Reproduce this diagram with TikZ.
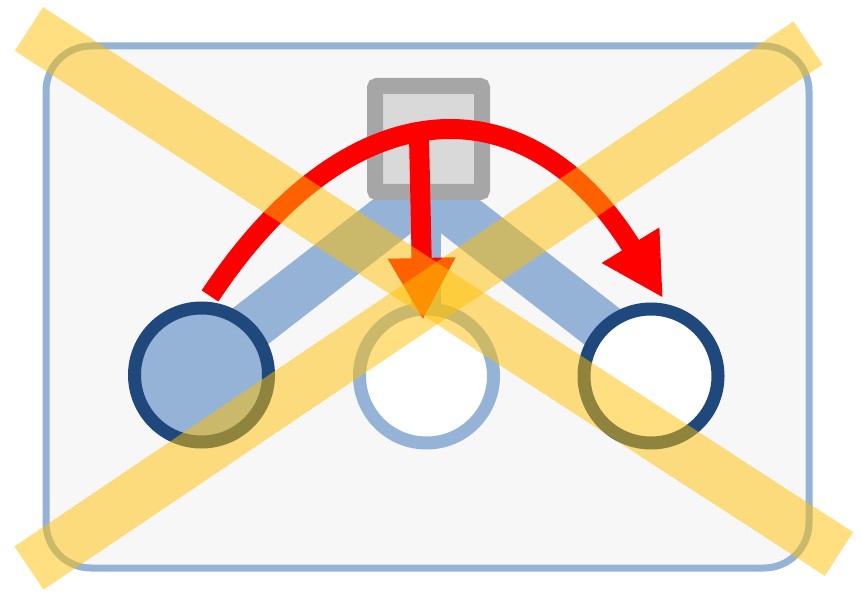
\documentclass[tikz,border=0pt]{standalone}
\usetikzlibrary{arrows.meta}
\definecolor{lightblue}{HTML}{95B3D7}
\definecolor{darkblue}{HTML}{1F497D}
\definecolor{boxgray}{HTML}{A6A6A6}
\definecolor{boxfill}{HTML}{D9D9D9}
\definecolor{panel}{HTML}{F7F7F7}
\definecolor{xyellow}{HTML}{FFC000}
\tikzset{
  band/.style={draw=lightblue, line width=50pt, line cap=butt},
  vband/.style={draw=lightblue, line width=30pt, line cap=butt},
  hub/.style={rectangle, draw=boxgray, fill=boxfill, line width=16pt, minimum width=107pt, minimum height=106pt, inner sep=0pt, rounded corners=2pt},
  endpt/.style={circle, line width=13pt, minimum size=134pt, inner sep=0pt},
  flow/.style={draw=red, line width=20pt, line cap=butt, -{Triangle[length=62pt,width=63pt]}},
  cross/.style={draw=xyellow, draw opacity=0.5, line width=52pt, line cap=butt}
}
\begin{document}
\begin{tikzpicture}[x=1pt,y=-1pt]
\useasboundingbox[fill=white] (0,0) rectangle (861,593);
% panel
\draw[draw=lightblue, fill=panel, line width=7pt, rounded corners=45pt] (46,46) rectangle (809,568);
% connection points
\coordinate (apex) at (426,190);
\coordinate (lend) at (230,342);
\coordinate (rend) at (622,342);
\coordinate (mend) at (426,330);
\draw[band] (lend) -- (apex);
\draw[band] (rend) -- (apex);
\draw[vband] (apex) -- (mend);
% hub
\node[hub] (hub) at (428.5,139) {};
% end points
\node[endpt, draw=darkblue, fill=lightblue] (left) at (201.5,375) {};
\node[endpt, draw=lightblue, fill=white] (mid) at (426.5,376) {};
\node[endpt, draw=darkblue, fill=white] (right) at (651,376) {};
% red flows
\coordinate (a0) at (210,296);
\coordinate (a1) at (663,298);
\coordinate (d0) at (419,136);
\coordinate (d1) at (423,320);
\draw[flow] (a0) .. controls (352,82) and (530,82) .. (a1);
\draw[flow] (d0) -- (d1);
% yellow cross
\coordinate (x1) at (29,29);
\coordinate (x2) at (839,554);
\coordinate (x3) at (29,568);
\coordinate (x4) at (808,43);
\draw[cross] (x1) -- (x2);
\draw[cross] (x3) -- (x4);
\end{tikzpicture}
\end{document}
